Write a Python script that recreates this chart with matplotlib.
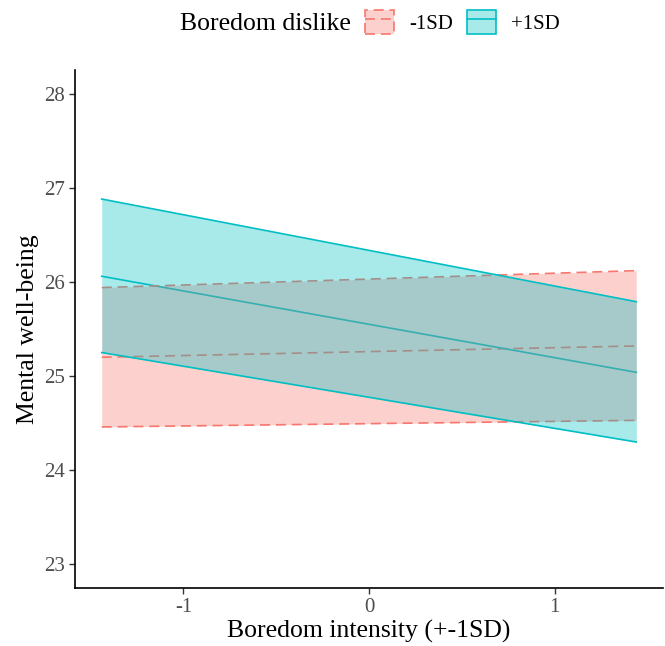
import matplotlib
matplotlib.use('Agg')
import matplotlib.pyplot as plt
from matplotlib.patches import Patch
from matplotlib.lines import Line2D
from matplotlib.colors import to_rgba

plt.rcParams['font.family'] = ['Liberation Serif', 'DejaVu Serif']

# data
intensity = [-1.44, 1.44]
groups = ['-1SD', '+1SD']
fit = {'-1SD': [25.20, 25.32], '+1SD': [26.06, 25.04]}
lower = {'-1SD': [24.46, 24.53], '+1SD': [25.25, 24.30]}
upper = {'-1SD': [25.94, 26.12], '+1SD': [26.88, 25.79]}
colors = {'-1SD': '#F8766D', '+1SD': '#00BFC4'}
styles = {'-1SD': (0, (6, 3.5)), '+1SD': '-'}

fig = plt.figure(figsize=(6.65, 6.46), dpi=100)
ax = fig.add_axes([0.1128, 0.0898, 0.8842, 0.8018])

# fitted lines first, ribbons go over them
for g in groups:
    ax.plot(intensity, fit[g], color=colors[g], ls=styles[g], lw=1.2, zorder=1)

z = 2
for g in groups:
    ax.fill_between(intensity, lower[g], upper[g], color=colors[g], alpha=0.34, lw=0, zorder=z)
    ax.plot(intensity, lower[g], color=colors[g], ls=styles[g], lw=1.2, zorder=z + 0.5)
    ax.plot(intensity, upper[g], color=colors[g], ls=styles[g], lw=1.2, zorder=z + 0.5)
    z += 1

ax.set_xlim(-1.584, 1.584)
ax.set_ylim(22.75, 28.25)
ax.set_xticks([-1, 0, 1])
ax.set_xticklabels(['-1', '0', '1'])
ax.set_yticks([23, 24, 25, 26, 27, 28])

for s in ['top', 'right']:
    ax.spines[s].set_visible(False)
for s in ['left', 'bottom']:
    ax.spines[s].set_linewidth(1.2)
    ax.spines[s].set_color('black')
ax.tick_params(length=4, width=1, color='#333333', labelcolor='#4D4D4D', labelsize=15, pad=3)

ax.set_xlabel('Boredom intensity (+-1SD)', fontsize=18.5, labelpad=2)
ax.set_ylabel('Mental well-being', fontsize=18.5, labelpad=4)

handles = []
for g in groups:
    p = Patch(facecolor=to_rgba(colors[g], 0.34), edgecolor=colors[g], linestyle=styles[g], linewidth=1.2)
    l = Line2D([], [], color=colors[g], ls=styles[g], lw=1.2)
    handles.append((p, l))

fig.text(351 / 665, 1 - 24 / 646, 'Boredom dislike', ha='right', va='center', fontsize=18.5)
fig.legend(handles, groups, loc='center left', bbox_to_anchor=(365 / 665, 1 - 22 / 646),
           ncol=2, frameon=False, fontsize=15, handlelength=1.4, handleheight=1.4,
           handletextpad=0.7, columnspacing=0.7, borderpad=0, borderaxespad=0)

fig.savefig('out.png', dpi=100)
